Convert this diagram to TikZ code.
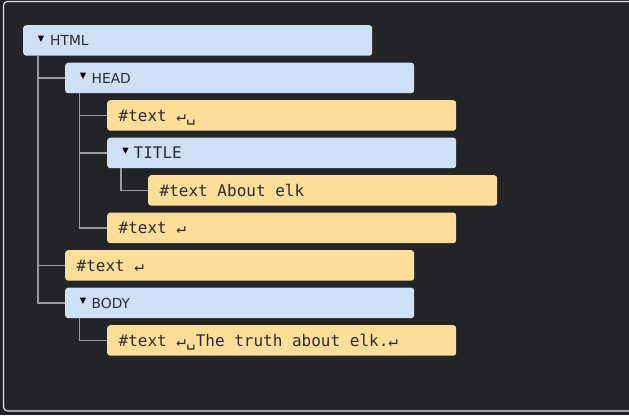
\documentclass[tikz,border=0pt]{standalone}
\usepackage{fontspec}
\setmainfont{DejaVu Sans}
\newfontfamily\tagfont{DejaVu Sans}
\newfontfamily\monofont{DejaVu Sans Mono}
\usetikzlibrary{calc}
\definecolor{outerbg}{HTML}{1F2023}
\definecolor{panelbg}{HTML}{232428}
\definecolor{framecol}{HTML}{E6E6E6}
\definecolor{elemfill}{HTML}{CDE0F5}
\definecolor{textfill}{HTML}{FFDE98}
\definecolor{linkcol}{HTML}{9C9C9C}
\definecolor{inkcol}{HTML}{2B2B33}
\tikzset{
  elembox/.style={fill=elemfill, rounded corners=3pt, minimum width=349pt, minimum height=30.5pt, inner sep=0pt, anchor=north west},
  textbox/.style={fill=textfill, rounded corners=3pt, minimum width=349pt, minimum height=30.5pt, inner sep=0pt, anchor=north west},
  tagtext/.style={font=\tagfont\fontsize{13.8}{16}\selectfont, text=inkcol, inner sep=0pt, anchor=base west},
  monotext/.style={font=\monofont\fontsize{16}{18}\selectfont, text=inkcol, inner sep=0pt, anchor=base west},
  tri/.style={font=\tagfont\fontsize{8.3}{9}\selectfont, text=black, inner sep=0pt, anchor=center},
  link/.style={draw=linkcol, line width=1.4pt},
}
\begin{document}
\begin{tikzpicture}[x=1pt, y=-1pt]
\useasboundingbox (0,0) rectangle (629,415);
\fill[outerbg] (0,0) rectangle (629,415);
\fill[panelbg, rounded corners=4pt] (3.5,1.5) rectangle (640,411);
\draw[framecol, line width=1.1pt, rounded corners=4pt] (640,1.5) -- (3.5,1.5) -- (3.5,411) -- (640,411);

% boxes
\node[elembox] (html)   at (23,25)    {};
\node[elembox] (head)   at (65,62.5)  {};
\node[textbox] (t1)     at (107,100)  {};
\node[elembox] (title)  at (107,137.5){};
\node[textbox] (t2)     at (148,175)  {};
\node[textbox] (t3)     at (107,212.5){};
\node[textbox] (t4)     at (65,250)   {};
\node[elembox] (body)   at (65,287.5) {};
\node[textbox] (t5)     at (107,325)  {};

% connectors
\draw[link] ([xshift=15pt]html.south west) |- (head.west);
\draw[link] ([xshift=15pt]html.south west) |- (t4.west);
\draw[link] ([xshift=15pt]html.south west) |- (body.west);
\draw[link] ([xshift=14.5pt]head.south west) |- (t1.west);
\draw[link] ([xshift=14.5pt]head.south west) |- (title.west);
\draw[link] ([xshift=14.5pt]head.south west) |- (t3.west);
\draw[link] ([xshift=14pt]title.south west) |- (t2.west);
\draw[link] ([xshift=14.5pt]body.south west) |- (t5.west);

% triangles
\node[tri] (trihtml)  at ([xshift=18pt, yshift=1.5pt]html.west)  {▼};
\node[tri] (trihead)  at ([xshift=18pt, yshift=1.5pt]head.west)  {▼};
\node[tri] (trititle) at ([xshift=18.5pt, yshift=1.5pt]title.west) {▼};
\node[tri] (tribody)  at ([xshift=18pt, yshift=1.5pt]body.west)  {▼};

% labels
\node[tagtext]  (lhtml)  at ([xshift=27pt, yshift=-5.5pt]html.west)  {HTML};
\node[tagtext]  (lhead)  at ([xshift=26.5pt, yshift=-5.5pt]head.west)  {HEAD};
\node[monotext] (ltitle) at ([xshift=26.5pt, yshift=-6pt]title.west) {TITLE};
\node[tagtext]  (lbody)  at ([xshift=26.5pt, yshift=-5.5pt]body.west)  {BODY};
\node[monotext] (lt1) at ([xshift=11.5pt, yshift=-6pt]t1.west) {\#text ↵␣};
\node[monotext] (lt2) at ([xshift=11.5pt, yshift=-6pt]t2.west) {\#text About elk};
\node[monotext] (lt3) at ([xshift=11.5pt, yshift=-6pt]t3.west) {\#text ↵};
\node[monotext] (lt4) at ([xshift=11.5pt, yshift=-6pt]t4.west) {\#text ↵};
\node[monotext] (lt5) at ([xshift=11.5pt, yshift=-6pt]t5.west) {\#text ↵␣The truth about elk.↵};
\end{tikzpicture}
\end{document}
